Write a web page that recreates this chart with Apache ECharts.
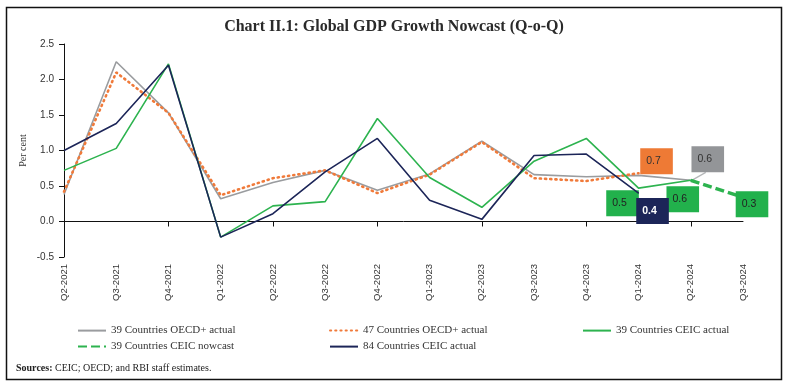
<!DOCTYPE html>
<html>
<head>
<meta charset="utf-8">
<script src="https://cdn.jsdelivr.net/npm/echarts@6/dist/echarts.min.js"></script>
<style>
html,body{margin:0;padding:0;background:#fff;}
#chart{width:788px;height:390px;}
</style>
</head>
<body>
<div id="chart"></div>
<script>
const categories = ['Q2-2021','Q3-2021','Q4-2021','Q1-2022','Q2-2022','Q3-2022','Q4-2022','Q1-2023','Q2-2023','Q3-2023','Q4-2023','Q1-2024','Q2-2024','Q3-2024'];
const oecd39Actual = [0.38, 2.25, 1.53, 0.32, 0.55, 0.72, 0.44, 0.67, 1.13, 0.66, 0.63, 0.65, 0.58, null];
const oecd47Actual = [0.42, 2.10, 1.53, 0.37, 0.61, 0.72, 0.40, 0.66, 1.12, 0.61, 0.57, 0.68, null, null];
const ceic39Actual = [0.72, 1.03, 2.22, -0.22, 0.22, 0.28, 1.45, 0.62, 0.20, 0.85, 1.17, 0.47, 0.58, null];
const ceic39Nowcast = [null, null, null, null, null, null, null, null, null, null, null, null, 0.58, 0.34];
const ceic84Actual = [1.00, 1.38, 2.20, -0.22, 0.11, 0.70, 1.17, 0.30, 0.03, 0.93, 0.95, 0.40, null, null];
const seriesNames = ['39 Countries OECD+ actual','47 Countries OECD+ actual','39 Countries CEIC actual','39 Countries CEIC nowcast','84 Countries CEIC actual'];
const yTicks = [-0.5, 0.0, 0.5, 1.0, 1.5, 2.0, 2.5];

const C = {gray:'#9a9c9f', grayBox:'#939598', orange:'#f07a3a', orangeBox:'#ee7a35', green:'#2db34f', greenBox:'#22b14c', navy:'#1c2558'};

function boxLabel(bg, fg, offset, extra) {
  return Object.assign({
    show: true, position: 'inside', offset: offset,
    formatter: p => p.value.toFixed(1),
    backgroundColor: bg, color: fg, fontSize: 10.5,
    fontFamily: 'Liberation Sans', padding: [9, 12, 6, 6]
  }, extra || {});
}
function build(values, labels) {
  return values.map((v, i) => {
    if (labels[i]) return {value: v, symbol: 'circle', symbolSize: 1, label: labels[i]};
    return v;
  });
}

const chart = echarts.init(document.getElementById('chart'));
const base = {type: 'line', symbol: 'none', xAxisIndex: 0, yAxisIndex: 0, silent: true, animation: false, emphasis: {disabled: true}};
chart.setOption({
  animation: false,
  title: {
    text: 'Chart II.1: Global GDP Growth Nowcast (Q-o-Q)',
    left: 'center', top: 14,
    textStyle: {fontFamily: 'Liberation Serif', fontWeight: 'bold', fontSize: 16, color: '#2a2a2a'}
  },
  grid: {left: 64, right: 45, top: 44, bottom: 133, containLabel: false, outerBoundsMode: 'none'},
  xAxis: [
    {type: 'category', data: categories, boundaryGap: false,
     axisLine: {onZero: true, lineStyle: {color: '#111', width: 1}},
     axisTick: {show: true, length: 5, lineStyle: {color: '#111'}},
     axisLabel: {show: false}, splitLine: {show: false}},
    {type: 'category', data: categories, boundaryGap: false, position: 'bottom',
     axisLine: {show: false, onZero: false}, axisTick: {show: false},
     axisLabel: {show: true, rotate: 90, margin: 7, fontSize: 9.5, color: '#333', fontFamily: 'Liberation Sans', interval: 0},
     splitLine: {show: false}}
  ],
  yAxis: {
    type: 'value', min: yTicks[0], max: yTicks[yTicks.length - 1], interval: 0.5,
    name: 'Per cent', nameLocation: 'middle', nameGap: 36, nameRotate: 90, nameMoveOverlap: false,
    nameTextStyle: {fontFamily: 'Liberation Serif', fontSize: 10, color: '#333'},
    axisLine: {show: true, lineStyle: {color: '#111', width: 1}},
    axisTick: {show: true, length: 5, lineStyle: {color: '#111'}},
    axisLabel: {formatter: v => v.toFixed(1), margin: 10, fontSize: 10, color: '#333', fontFamily: 'Liberation Sans'},
    splitLine: {show: false}
  },
  legend: [
    {data: [seriesNames[0]], left: 72, top: 320},
    {data: [seriesNames[1]], left: 324, top: 320},
    {data: [seriesNames[2]], left: 577, top: 320},
    {data: [seriesNames[3]], left: 72, top: 336},
    {data: [seriesNames[4]], left: 324, top: 336}
  ].map(l => Object.assign({itemWidth: 28, itemHeight: 14, itemGap: 10, selectedMode: false,
      itemStyle: {opacity: 0, borderWidth: 0},
      textStyle: {fontFamily: 'Liberation Serif', fontSize: 11, color: '#333'}}, l)),
  series: [
    Object.assign({}, base, {name: seriesNames[0], z: 2,
      lineStyle: {color: C.gray, width: 1.6}, itemStyle: {color: C.gray},
      data: build(oecd39Actual, {12: boxLabel(C.grayBox, '#333', [17, -21])})}),
    Object.assign({}, base, {name: seriesNames[1], z: 3,
      lineStyle: {color: C.orange, width: 2.6, type: [1.2, 4], cap: 'round'}, itemStyle: {color: C.orange},
      data: build(oecd47Actual, {11: boxLabel(C.orangeBox, '#333', [18, -12])})}),
    Object.assign({}, base, {name: seriesNames[2], z: 4,
      lineStyle: {color: C.green, width: 1.6}, itemStyle: {color: C.green},
      data: build(ceic39Actual, {
        11: boxLabel(C.greenBox, '#222', [-16, 15]),
        12: boxLabel(C.greenBox, '#222', [-8, 19])})}),
    Object.assign({}, base, {name: seriesNames[3], z: 4,
      lineStyle: {color: C.green, width: 3.5, type: [9, 4]}, itemStyle: {color: C.green},
      data: build(ceic39Nowcast, {13: boxLabel(C.greenBox, '#222', [9, 7])})}),
    Object.assign({}, base, {name: seriesNames[4], z: 5,
      lineStyle: {color: C.navy, width: 1.6}, itemStyle: {color: C.navy},
      data: build(ceic84Actual, {11: boxLabel(C.navy, '#fff', [14, 18], {fontWeight: 'bold'})})})
  ]
});

// leader line from the last OECD+ 39 point to its value box, anchored through the chart's own scales
const anchor = chart.convertToPixel({xAxisIndex: 0, yAxisIndex: 0}, [categories[12], oecd39Actual[12]]);
chart.setOption({
  graphic: [
    {type: 'rect', shape: {x: 6.5, y: 7.5, width: 775, height: 372}, style: {fill: 'none', stroke: '#111', lineWidth: 1.5}, silent: true},
    {type: 'line', shape: {x1: anchor[0] + 1, y1: anchor[1], x2: anchor[0] + 15, y2: anchor[1] - 8}, style: {stroke: '#b5b7b9', lineWidth: 1.3}, silent: true, z: 1},
    {type: 'text', left: 16, top: 363, silent: true,
     style: {text: '{b|Sources:} CEIC; OECD; and RBI staff estimates.', fontFamily: 'Liberation Serif', fontSize: 10, fill: '#222',
       rich: {b: {fontWeight: 'bold', fontFamily: 'Liberation Serif', fontSize: 10, fill: '#222'}}}}
  ]
});
</script>
</body>
</html>
